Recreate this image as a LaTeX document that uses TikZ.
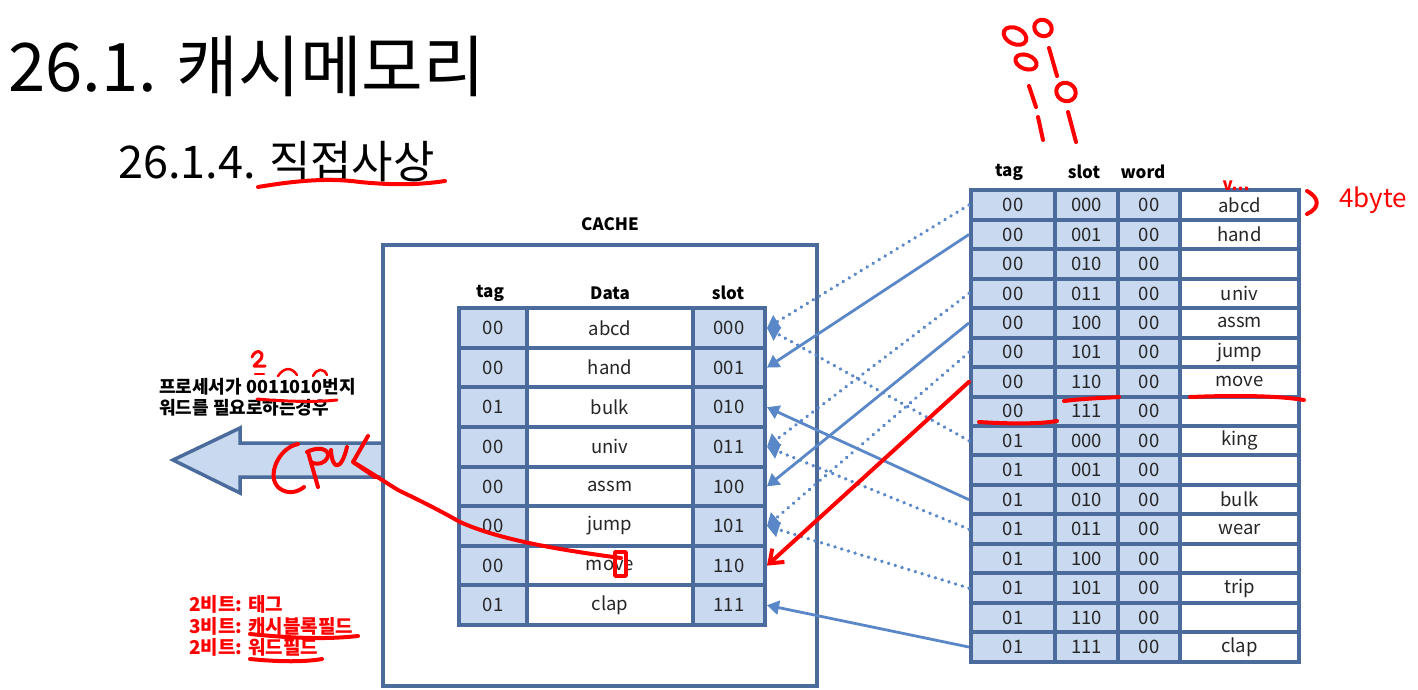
\documentclass[tikz,border=0pt]{standalone}
\usepackage{fontspec}
\setmainfont{Noto Sans CJK KR}
\usetikzlibrary{arrows.meta,calc}
\definecolor{bd}{HTML}{4A6B9B}
\definecolor{fl}{HTML}{C9D9F0}
\definecolor{ab}{HTML}{5A87C8}
\definecolor{rd}{HTML}{FF0000}
\tikzset{
 cell/.style={draw=bd, line width=4pt, fill=fl, inner sep=0pt, text=black!85, font=\fontsize{18.5}{20}\selectfont},
 wcell/.style={cell, fill=white},
 hdr/.style={font=\bfseries\fontsize{17}{19}\selectfont},
 solidarr/.style={draw=ab, line width=2.8pt, -{Triangle[length=12pt,width=14pt]}},
 dotarr/.style={draw=ab, line width=3.8pt, line cap=round, dash pattern=on 0.01pt off 7pt, -{Triangle[length=12pt,width=15pt,line cap=butt]}},
 redpen/.style={draw=rd, line width=4pt, line cap=round, line join=round},
}
\begin{document}
\begin{tikzpicture}[x=1pt,y=-1pt]
\useasboundingbox (0,0) rectangle (1418,690);
% titles
\node[anchor=west, inner sep=0pt, font=\fontsize{67}{72}\selectfont] (title) at (8,66) {26.1. 캐시메모리};
\node[anchor=west, inner sep=0pt, font=\fontsize{45}{50}\selectfont] (sub) at (118,162) {26.1.4. 직접사상};
% block arrow
\draw[draw=bd, fill=fl, line width=3.5pt, line join=miter] (383,443) -- (240,443) -- (240,428) -- (173,460) -- (240,493) -- (240,477) -- (383,477);
% cache box
\node[draw=bd, line width=3.5pt, fill=white, minimum width=434pt, minimum height=441pt, inner sep=0pt] (cache) at (600,465.5) {};
\node[hdr] (cachelbl) at (610,224) {CACHE};
\node[hdr] (hct) at (490,293) {tag};
\node[hdr] (hcd) at (610,293) {Data};
\node[hdr] (hcs) at (728,293) {slot};
\foreach \i/\t/\d/\s in {0/00/abcd/000, 1/00/hand/001, 2/01/bulk/010, 3/00/univ/011, 4/00/assm/100, 5/00/jump/101, 6/00/move/110, 7/01/clap/111} {
 \pgfmathsetmacro\yy{328+39.6*\i}
 \node[cell, minimum width=68pt, minimum height=39.6pt] (ct\i) at (493,\yy) {\t};
 \node[wcell, minimum width=166pt, minimum height=39.6pt] (cd\i) at (610,\yy) {\d};
 \node[cell, minimum width=72pt, minimum height=39.6pt] (cs\i) at (729,\yy) {\s};
}
% memory
\node[hdr] (hmt) at (1009,172) {tag};
\node[hdr] (hms) at (1084,172) {slot};
\node[hdr] (hmw) at (1143,172) {word};
\foreach \i/\t/\s/\d in {0/00/000/abcd, 1/00/001/hand, 2/00/010/, 3/00/011/univ, 4/00/100/assm, 5/00/101/jump, 6/00/110/move, 7/00/111/, 8/01/000/king, 9/01/001/, 10/01/010/bulk, 11/01/011/wear, 12/01/100/, 13/01/101/trip, 14/01/110/, 15/01/111/clap} {
 \pgfmathsetmacro\yy{205+29.47*\i}
 \node[cell, minimum width=84pt, minimum height=29.47pt] (mt\i) at (1013,\yy) {\t};
 \node[cell, minimum width=63pt, minimum height=29.47pt] (ms\i) at (1086.5,\yy) {\s};
 \node[cell, minimum width=62pt, minimum height=29.47pt] (mw\i) at (1149,\yy) {00};
 \node[wcell, minimum width=119pt, minimum height=29.47pt] (md\i) at (1239.5,\yy) {\d};
}
% mapping arrows
\draw[dotarr] (mt0.west) -- (cs0.east);
\draw[solidarr] (mt1.west) -- (cs1.east);
\draw[dotarr] (mt3.west) -- (cs3.east);
\draw[solidarr] (mt4.west) -- (cs4.east);
\draw[dotarr] (mt5.west) -- (cs5.east);
\draw[dotarr] (mt8.west) -- (cs0.east);
\draw[solidarr] (mt10.west) -- (cs2.east);
\draw[dotarr] (mt11.west) -- (cs3.east);
\draw[dotarr] (mt13.west) -- (cs5.east);
\draw[solidarr] (mt15.west) -- (cs7.east);
% texts left
\node[anchor=west, inner sep=0pt, align=left, font=\bfseries\fontsize{18}{21}\selectfont] (ptext) at (159,397) {프로세서가 0011010번지\\워드를 필요로하는경우};
\node[anchor=west, inner sep=0pt, align=left, text=rd, font=\bfseries\fontsize{19}{21.5}\selectfont] (bits) at (189,626) {2비트: 태그\\3비트: 캐시블록필드\\2비트: 워드필드};
% ---- red handwriting ----
\draw[redpen] (258,187) .. controls (300,180) and (330,178) .. (360,182) .. controls (400,186) and (425,184) .. (445,181);
% digits at top
\draw[redpen, rotate around={-25:(1015,36)}] (1015,36) ellipse (12 and 8);
\draw[redpen, rotate around={-30:(1043,28)}] (1043,28) ellipse (9 and 8);
\draw[redpen, rotate around={-20:(1026,62)}] (1026,62) ellipse (11 and 7);
\draw[redpen] (1049,48) -- (1057,76);
\draw[redpen] (1029,86) -- (1036,107);
\draw[redpen, rotate around={-30:(1066,92)}] (1066,92) ellipse (10 and 9);
\draw[redpen] (1038,117) -- (1043,140);
\draw[redpen] (1068,112) -- (1076,142);
% 4byte
\draw[redpen] (1307,191) .. controls (1320,198) and (1320,208) .. (1307,214);
\node[text=rd, inner sep=0pt, font=\fontsize{26}{26}\selectfont] (fourbyte) at (1373,200) {4byte};
\node[text=rd, inner sep=0pt, font=\bfseries\fontsize{17}{17}\selectfont] (vdots) at (1236,186) {v...};
% underlines in memory
\draw[redpen] (1064,401) .. controls (1090,398) and (1105,398) .. (1119,397);
\draw[redpen] (1190,397) .. controls (1240,395) and (1280,396) .. (1304,400);
\draw[redpen] (979,422) .. controls (1010,424) and (1040,424) .. (1057,421);
% red arrow move -> slot 110
\draw[redpen, -{Straight Barb[length=12pt,width=18pt,line width=4pt]}] (mt6.west) -- (cs6.east);
% red curve to CPU
\draw[redpen, line width=3.5pt] (615,552) rectangle (626,576);
\draw[redpen] (621,558) .. controls (560,550) and (500,540) .. (460,522) .. controls (430,505) and (410,496) .. (398,490) .. controls (385,482) and (370,472) .. (353,462);
\draw[redpen] (368,436) -- (353,462) -- (375,477);
% CPU letters
\draw[redpen] (298,444) .. controls (278,448) and (266,477) .. (279,488) .. controls (288,495) and (298,492) .. (304,487);
\draw[redpen] (308,452) -- (318,487);
\draw[redpen] (307,452) .. controls (322,444) and (334,452) .. (325,461) .. controls (320,465) and (314,464) .. (311,462);
\draw[redpen] (331,450) .. controls (332,470) and (341,472) .. (347,447);
% annotations above 0011010
\draw[redpen, line width=3pt] (252,357) .. controls (255,349) and (265,350) .. (261,359) -- (254,366) -- (265,366);
\draw[redpen, line width=2.5pt] (255,374) -- (264,374);
\draw[redpen, line width=2.5pt] (278,376) .. controls (284,367) and (292,367) .. (297,375);
\draw[redpen, line width=2.5pt] (313,376) .. controls (317,368) and (324,368) .. (327,375);
\draw[redpen, line width=3pt] (257,399) .. controls (290,402) and (320,402) .. (337,400);
% underlines bottom left
\draw[redpen] (250,634) .. controls (300,639) and (330,639) .. (358,636);
\draw[redpen] (250,659) .. controls (280,662) and (305,662) .. (322,659);
\end{tikzpicture}
\end{document}
